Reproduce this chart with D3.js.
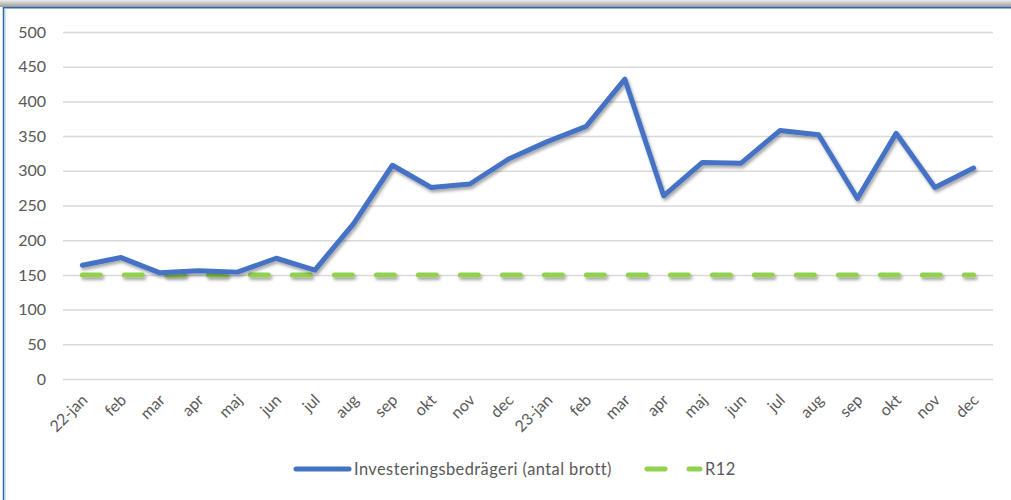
<!DOCTYPE html>
<html>
<head>
<meta charset="utf-8">
<script src="https://cdn.jsdelivr.net/npm/d3@7"></script>
<style>
  body { margin: 0; background: #fff; }
  svg { display: block; font-family: Lato, "Open Sans", sans-serif; }
</style>
</head>
<body>
<svg id="chart" width="1011" height="500"></svg>
<script>
const months = ["22-jan", "feb", "mar", "apr", "maj", "jun", "jul", "aug", "sep", "okt", "nov", "dec",
  "23-jan", "feb", "mar", "apr", "maj", "jun", "jul", "aug", "sep", "okt", "nov", "dec"];
const brott = [164, 175, 153, 156, 154, 174, 157, 224, 308, 276, 281, 317,
  342, 364, 432, 264, 312, 311, 358, 352, 260, 354, 276, 304];
const r12 = [150, 150, 150, 150, 150, 150, 150, 150, 150, 150, 150, 150,
  150, 150, 150, 150, 150, 150, 150, 150, 150, 150, 150, 150];
const yTicks = [0, 50, 100, 150, 200, 250, 300, 350, 400, 450, 500];
const seriesNames = ["Investeringsbedrägeri (antal brott)", "R12"];

const svg = d3.select("#chart");
const W = 1011;
const H = 500;
const BLUE = "#4472c4";
const GREEN = "#92d050";
const FONT = "Lato, 'Open Sans', sans-serif";

// frame: grey shadow on top, blue border
const defs = svg.append("defs");
const grad = defs.append("linearGradient").attr("id", "topShade").attr("x1", 0).attr("y1", 0).attr("x2", 0).attr("y2", 1);
grad.append("stop").attr("offset", "0%").attr("stop-color", "#ececec");
grad.append("stop").attr("offset", "100%").attr("stop-color", "#9a9a9a");
// userSpaceOnUse so the flat R12 line still gets a shadow
const shadow = defs.append("filter").attr("id", "shadow").attr("filterUnits", "userSpaceOnUse")
  .attr("x", 0).attr("y", 0).attr("width", W).attr("height", H);
shadow.append("feDropShadow").attr("dx", 1.5).attr("dy", 2.5).attr("stdDeviation", 1.6)
  .attr("flood-color", "#000").attr("flood-opacity", 0.35);

svg.append("rect").attr("x", 0).attr("y", 0).attr("width", W).attr("height", 7).attr("fill", "url(#topShade)");
svg.append("line").attr("x1", 3).attr("x2", W).attr("y1", 7.75).attr("y2", 7.75).attr("stroke", "#2e64a8").attr("stroke-width", 1.5);
svg.append("line").attr("x1", 3.5).attr("x2", 3.5).attr("y1", 7).attr("y2", H).attr("stroke", "#2e64a8").attr("stroke-width", 1.5);
svg.append("line").attr("x1", 5).attr("x2", 5).attr("y1", 8.5).attr("y2", H).attr("stroke", "#a9c4e4").attr("stroke-width", 1);

const x = d3.scaleBand().domain(d3.range(months.length)).range([63, 993]);
const y = d3.scaleLinear().domain([0, 500]).range([379, 32]);
const cx = (i) => x(i) + x.bandwidth() / 2;

// grid
const yAxis = svg.append("g")
  .attr("transform", "translate(63,0)")
  .call(d3.axisLeft(y).tickValues(yTicks).tickSize(-930).tickPadding(17))
  .attr("font-family", FONT);
yAxis.select(".domain").remove();
yAxis.selectAll(".tick line").attr("stroke", "#d9d9d9").attr("stroke-width", 1.5);
yAxis.selectAll(".tick text").attr("fill", "#595959").style("font-size", "16px");

// x labels
const xAxis = svg.append("g")
  .attr("transform", "translate(0,379)")
  .call(d3.axisBottom(x).tickFormat((i) => months[i]).tickSize(0))
  .attr("font-family", FONT);
xAxis.select(".domain").remove();
xAxis.selectAll(".tick text")
  .attr("fill", "#595959")
  .style("font-size", "16px")
  .attr("text-anchor", "end")
  .attr("dy", 0)
  .attr("transform", "translate(4,20) rotate(-45)");

const line = d3.line().x((d, i) => cx(i)).y((d) => y(d));

svg.append("path")
  .datum(r12)
  .attr("d", line)
  .attr("fill", "none")
  .attr("stroke", GREEN)
  .attr("stroke-width", 5)
  .attr("stroke-linecap", "round")
  .attr("stroke-dasharray", "18 24")
  .attr("filter", "url(#shadow)");

svg.append("path")
  .datum(brott)
  .attr("d", line)
  .attr("fill", "none")
  .attr("stroke", BLUE)
  .attr("stroke-width", 5)
  .attr("stroke-linejoin", "round")
  .attr("stroke-linecap", "round")
  .attr("filter", "url(#shadow)");

// legend
const legend = svg.append("g").style("font-size", "16.4px").style("letter-spacing", "0.45px").attr("fill", "#595959");
legend.append("line").attr("x1", 296).attr("x2", 349).attr("y1", 469).attr("y2", 469)
  .attr("stroke", BLUE).attr("stroke-width", 5).attr("stroke-linecap", "round");
legend.append("text").attr("x", 354).attr("y", 475).text(seriesNames[0]);
legend.append("line").attr("x1", 647).attr("x2", 700).attr("y1", 469).attr("y2", 469)
  .attr("stroke", GREEN).attr("stroke-width", 5).attr("stroke-linecap", "round").attr("stroke-dasharray", "18 24");
legend.append("text").attr("x", 705).attr("y", 475).text(seriesNames[1]);
</script>
</body>
</html>
